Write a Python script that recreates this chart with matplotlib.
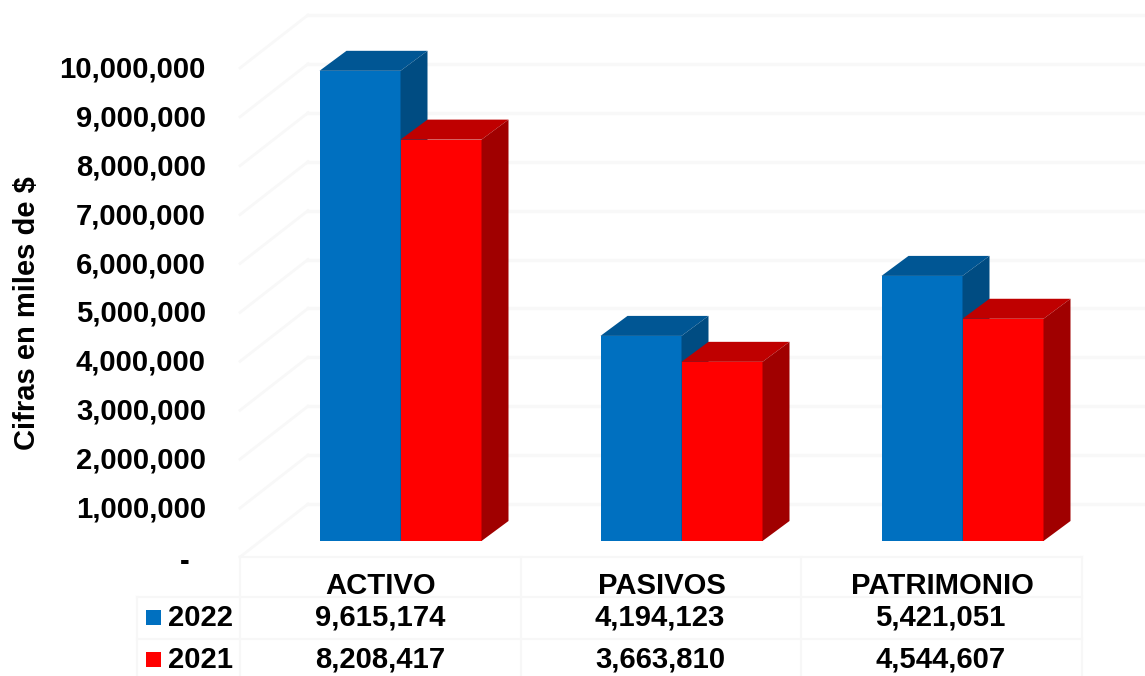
#!/usr/bin/env python3
import matplotlib
matplotlib.use('Agg')
import matplotlib.pyplot as plt
from matplotlib.patches import Polygon, Rectangle
from matplotlib.ticker import FuncFormatter
from matplotlib.transforms import ScaledTranslation

categories = ['ACTIVO', 'PASIVOS', 'PATRIMONIO']
years = ['2022', '2021']
values_2022 = [9615174, 4194123, 5421051]
values_2021 = [8208417, 3663810, 4544607]
y_ticks = [0, 1000000, 2000000, 3000000, 4000000, 5000000, 6000000, 7000000, 8000000, 9000000, 10000000]

plt.rcParams['font.family'] = ['Liberation Sans', 'DejaVu Sans']
plt.rcParams['font.weight'] = 'bold'
FS = 21.1

W, H = 1145, 676
PX_X = 281.0         # pixels per category
PX_Y = 48.9e-6       # pixels per unit of value
GRID = '#f8f8f8'
LINE = '#f7f7f7'
BLUE = ('#0070c0', '#005694', '#004c82')
RED = ('#ff0000', '#bf0000', '#a00000')

fig = plt.figure(figsize=(W / 100, H / 100), dpi=100)
ax = fig.add_axes([240 / W, (H - 557) / H, (W - 240) / W, 557 / H])
ax.set_xlim(-0.5, (W - 240) / PX_X - 0.5)
ax.set_ylim(0, 557 / PX_Y)
for s in ax.spines.values():
    s.set_visible(False)


def dx(px):
    return px / PX_X


def dv(px):
    return px / PX_Y


# walls and floor grid
for t in y_ticks:
    ax.plot([-0.5, -0.5 + dx(68)], [t, t + dv(53)], color=GRID, lw=2, clip_on=False, zorder=1)
    ax.plot([-0.5 + dx(68), 3.2], [t + dv(53), t + dv(53)], color=GRID, lw=2.5, clip_on=False, zorder=1)

# 3d bars, front face through ax.bar and the two visible faces as polygons
base = dv(16)
shift = dx(20)
bar_w = dx(81)
depth_x = dx(27)
depth_y = dv(20)


def bar3d(x, v, cols):
    ax.bar(x, v, bar_w, bottom=base, color=cols[0], zorder=3)
    left, right = x - bar_w / 2, x + bar_w / 2
    top = base + v
    ax.add_patch(Polygon([(left, top), (right, top), (right + depth_x, top + depth_y), (left + depth_x, top + depth_y)],
                         closed=True, fc=cols[1], ec='none', zorder=3))
    ax.add_patch(Polygon([(right, base), (right + depth_x, base + depth_y), (right + depth_x, top + depth_y), (right, top)],
                         closed=True, fc=cols[2], ec='none', zorder=3))


for i in range(len(categories)):
    bar3d(i + shift - bar_w / 2, values_2022[i], BLUE)
    bar3d(i + shift + bar_w / 2, values_2021[i], RED)

ax.set_yticks(y_ticks)
ax.yaxis.set_major_formatter(FuncFormatter(lambda v, p: f'{int(v):,}' if v > 0 else '-  '))
ax.tick_params(axis='y', length=0, pad=24.5, labelsize=FS)
ax.set_xticks(range(len(categories)))
ax.set_xticklabels(categories)
ax.tick_params(axis='x', length=0, pad=11, labelsize=FS)

# tick labels sit a little above their value, the dash a little below
for t, lab in zip(y_ticks, ax.get_yticklabels()):
    up = 1.5 if t > 0 else -2
    lab.set_transform(lab.get_transform() + ScaledTranslation(0, up / 100, fig.dpi_scale_trans))

fig.text(27 / W, 1 - 313 / H, 'Cifras en miles de $', rotation=90, ha='center', va='center', fontsize=21)


# table under the chart, in pixel positions of the figure
def figline(x0, y0, x1, y1):
    fig.add_artist(plt.Line2D([x0 / W, x1 / W], [1 - y0 / H, 1 - y1 / H], color=LINE, lw=1.5))


figline(240, 557, 1082, 557)
figline(137, 597, 1082, 597)
figline(137, 639, 1082, 639)
for xp in [240, 521, 801, 1082]:
    figline(xp, 557, xp, H)
figline(137, 597, 137, H)

col_x = [380, 660, 940.5]
rows = [(values_2022, 618, BLUE[0]), (values_2021, 660, RED[0])]
for yr, (vals, yp, col) in zip(years, rows):
    fig.add_artist(Rectangle((146 / W, 1 - (yp + 7) / H), 15 / W, 15 / H, fc=col, ec='none',
                             transform=fig.transFigure))
    fig.text(168 / W, 1 - yp / H, yr, ha='left', va='center', fontsize=FS)
    for xp, v in zip(col_x, vals):
        fig.text(xp / W, 1 - yp / H, f'{v:,}', ha='center', va='center', fontsize=FS)

fig.savefig('out.png', dpi=100)
